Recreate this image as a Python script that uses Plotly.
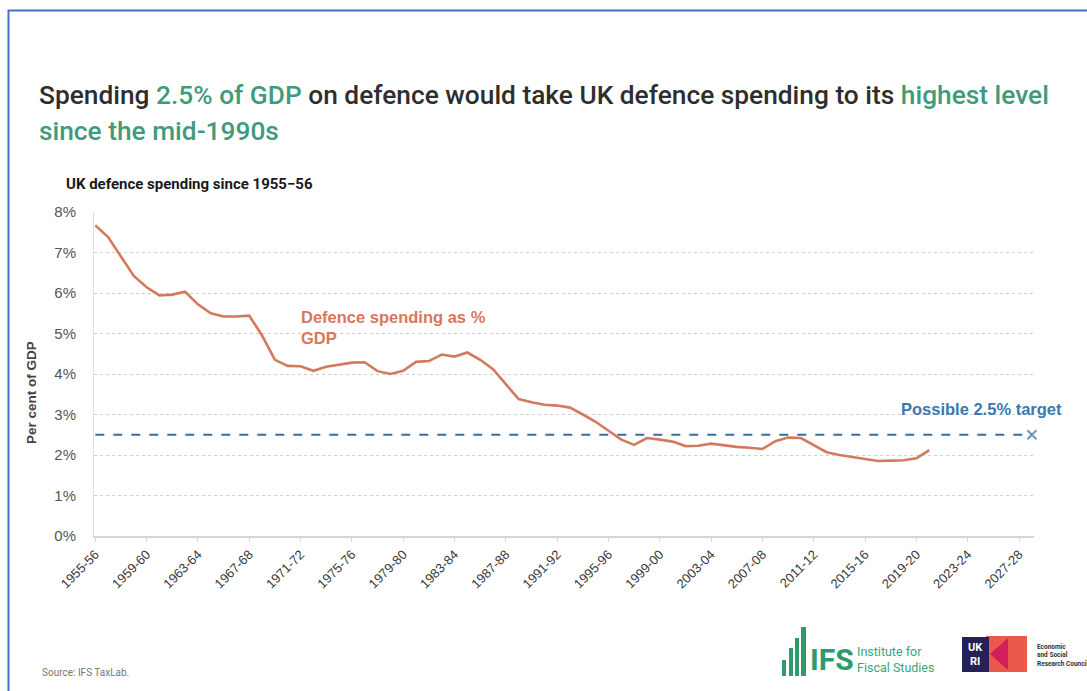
import plotly.graph_objects as go

# ---------------- data ----------------
years = [1955, 1956, 1957, 1958, 1959, 1960, 1961, 1962, 1963, 1964,
         1965, 1966, 1967, 1968, 1969, 1970, 1971, 1972, 1973, 1974,
         1975, 1976, 1977, 1978, 1979, 1980, 1981, 1982, 1983, 1984,
         1985, 1986, 1987, 1988, 1989, 1990, 1991, 1992, 1993, 1994,
         1995, 1996, 1997, 1998, 1999, 2000, 2001, 2002, 2003, 2004,
         2005, 2006, 2007, 2008, 2009, 2010, 2011, 2012, 2013, 2014,
         2015, 2016, 2017, 2018, 2019, 2020]
spending_pct = [7.67, 7.38, 6.90, 6.42, 6.14, 5.94, 5.96, 6.03, 5.72, 5.50,
                5.42, 5.42, 5.44, 4.95, 4.35, 4.20, 4.19, 4.08, 4.18, 4.23,
                4.28, 4.29, 4.07, 4.00, 4.08, 4.30, 4.32, 4.48, 4.43, 4.53,
                4.35, 4.12, 3.75, 3.38, 3.30, 3.24, 3.22, 3.17, 3.00, 2.82,
                2.60, 2.38, 2.25, 2.42, 2.38, 2.33, 2.22, 2.23, 2.28, 2.24,
                2.20, 2.18, 2.15, 2.34, 2.43, 2.42, 2.25, 2.07, 2.00, 1.95,
                1.90, 1.85, 1.86, 1.87, 1.92, 2.12]
target_years = [1955, 2028]
target_pct = [2.5, 2.5]

tick_years = [1955, 1959, 1963, 1967, 1971, 1975, 1979, 1983, 1987, 1991,
              1995, 1999, 2003, 2007, 2011, 2015, 2019, 2023, 2027]
tick_labels = ["1955-56", "1959-60", "1963-64", "1967-68", "1971-72",
               "1975-76", "1979-80", "1983-84", "1987-88", "1991-92",
               "1995-96", "1999-00", "2003-04", "2007-08", "2011-12",
               "2015-16", "2019-20", "2023-24", "2027-28"]
y_ticks = [0, 1, 2, 3, 4, 5, 6, 7, 8]
y_labels = ["0%", "1%", "2%", "3%", "4%", "5%", "6%", "7%", "8%"]

# ---------------- layout helpers ----------------
W, H = 1087, 691
def px(x):
    return x / W
def py(y):
    return 1 - y / H

LINE_COL = "#d47a5c"
TARGET_COL = "#3a6d9c"
GREEN = "#3f9b7c"
TITLE_FONT = "Roboto, Liberation Sans, sans-serif"
ARIAL = "Liberation Sans, Arial, sans-serif"

fig = go.Figure()

fig.add_trace(go.Scatter(
    x=target_years, y=target_pct, mode="lines+markers",
    line=dict(color=TARGET_COL, width=2.2, dash="dash"),
    marker=dict(symbol=["line-ne-open", "x-thin-open"], size=[0, 9],
                color=TARGET_COL, line=dict(color=TARGET_COL, width=2.2)),
    hoverinfo="skip", showlegend=False, cliponaxis=False))

fig.add_trace(go.Scatter(
    x=years, y=spending_pct, mode="lines",
    line=dict(color=LINE_COL, width=2.6),
    showlegend=False, name="Defence spending as % GDP"))

x0, x1 = 1954.9, 2028.15
ppy = 12.83
dom_l = 95.3 - (1955 - x0) * ppy
dom_r = 95.3 + (x1 - 1955) * ppy

fig.update_layout(
    width=W, height=H,
    margin=dict(l=0, r=0, t=0, b=0),
    paper_bgcolor="white", plot_bgcolor="white",
    font=dict(family=ARIAL, color="#444"),
    xaxis=dict(domain=[px(dom_l), px(dom_r)], range=[x0, x1], automargin=False,
               tickvals=tick_years, ticktext=tick_labels, tickangle=-45,
               tickfont=dict(size=13, color="#3a3a3a", family=ARIAL),
               showgrid=False, zeroline=False,
               showline=True, linecolor="#d6d6d6", linewidth=1.5,
               ticks="outside", ticklen=4, tickcolor="#d6d6d6"),
    yaxis=dict(domain=[py(536), py(212)], range=[0, 8], automargin=False,
               tickvals=y_ticks, ticktext=y_labels,
               tickfont=dict(size=15, color="#555", family=ARIAL),
               showgrid=True, gridcolor="#cfcfcf", griddash="dot", gridwidth=1,
               zeroline=False, showline=True, linecolor="#dedede", linewidth=1,
               ticks="", ticklabelstandoff=14),
)

title1 = ("Spending <span style='color:" + GREEN + "'>2.5% of GDP</span> on defence would take "
          "UK defence spending to its <span style='color:" + GREEN + "'>highest level</span>")

ann = []
ann.append(dict(xref="paper", yref="paper", x=px(37), y=py(95), xanchor="left", yanchor="middle",
                text=title1,
                font=dict(family=TITLE_FONT, size=26.3, weight=500, color="#2e2e2e"), showarrow=False))
ann.append(dict(xref="paper", yref="paper", x=px(37), y=py(131), xanchor="left", yanchor="middle",
                text="since the mid-1990s",
                font=dict(family=TITLE_FONT, size=26.3, weight=500, color=GREEN), showarrow=False))
ann.append(dict(xref="paper", yref="paper", x=px(64), y=py(184), xanchor="left", yanchor="middle",
                text="UK defence spending since 1955\u221256",
                font=dict(family=TITLE_FONT, size=15, weight=700, color="#1a1a1a"), showarrow=False))
ann.append(dict(xref="paper", yref="paper", x=px(31), y=py(393), xanchor="center", yanchor="middle",
                text="<b>Per cent of GDP</b>", textangle=-90,
                font=dict(family=ARIAL, size=13.5, color="#444"), showarrow=False))
ann.append(dict(xref="paper", yref="paper", x=px(299), y=py(327), xanchor="left", yanchor="middle",
                text="<b>Defence spending as %<br>GDP</b>", align="left",
                font=dict(family=ARIAL, size=16.5, color="#d9775a"), showarrow=False))
ann.append(dict(xref="paper", yref="paper", x=px(899), y=py(409), xanchor="left", yanchor="middle",
                text="<b>Possible 2.5% target</b>",
                font=dict(family=ARIAL, size=16.5, color="#3a78b0"), showarrow=False))
ann.append(dict(xref="paper", yref="paper", x=px(40), y=py(672), xanchor="left", yanchor="middle",
                text="Source: IFS TaxLab.",
                font=dict(family=TITLE_FONT, size=10, color="#777"), showarrow=False))
# IFS logo text
ann.append(dict(xref="paper", yref="paper", x=px(808), y=py(659), xanchor="left", yanchor="middle",
                text="<b>IFS</b>", font=dict(family=TITLE_FONT, size=30, color="#2f9a6c"), showarrow=False))
ann.append(dict(xref="paper", yref="paper", x=px(855), y=py(659), xanchor="left", yanchor="middle",
                text="Institute for<br>Fiscal Studies", align="left",
                font=dict(family=TITLE_FONT, size=12.5, color="#3aa57a"), showarrow=False))
ann.append(dict(xref="paper", yref="paper", x=px(1035), y=py(655), xanchor="left", yanchor="middle",
                text="<b>Economic<br>and Social<br>Research Council</b>", align="left",
                font=dict(family=TITLE_FONT, size=6.5, color="#333"), showarrow=False))
ann.append(dict(xref="paper", yref="paper", x=px(975.5), y=py(654.5), xanchor="center", yanchor="middle",
                text="<b>UK<br>RI</b>", align="center",
                font=dict(family=TITLE_FONT, size=11, color="white"), showarrow=False))

shapes = []
# border
shapes.append(dict(type="rect", xref="paper", yref="paper",
                   x0=px(8.5), x1=px(1100), y0=py(720), y1=py(10.5),
                   line=dict(color="#4472c4", width=2), fillcolor="rgba(0,0,0,0)", layer="above"))
# IFS bars
for (bx0, bx1, by0) in [(782, 786, 660), (789, 793, 648), (795, 799, 638), (801, 806, 627)]:
    shapes.append(dict(type="rect", xref="paper", yref="paper",
                       x0=px(bx0), x1=px(bx1), y0=py(676), y1=py(by0),
                       line=dict(width=0), fillcolor="#2f9a6c"))
# UKRI logo
shapes.append(dict(type="rect", xref="paper", yref="paper", x0=px(986), x1=px(1027),
                   y0=py(672), y1=py(636), line=dict(width=0), fillcolor="#ea5a4a"))
shapes.append(dict(type="path", xref="paper", yref="paper",
                   path="M %f %f L %f %f L %f %f L %f %f Z" % (px(990), py(654), px(1008), py(638), px(1008), py(670), px(990), py(654)),
                   line=dict(width=0), fillcolor="#d21e5a"))
shapes.append(dict(type="rect", xref="paper", yref="paper", x0=px(962), x1=px(989),
                   y0=py(672), y1=py(637), line=dict(width=0), fillcolor="#232155"))

fig.update_layout(annotations=ann, shapes=shapes)

fig.write_html("out.html")
